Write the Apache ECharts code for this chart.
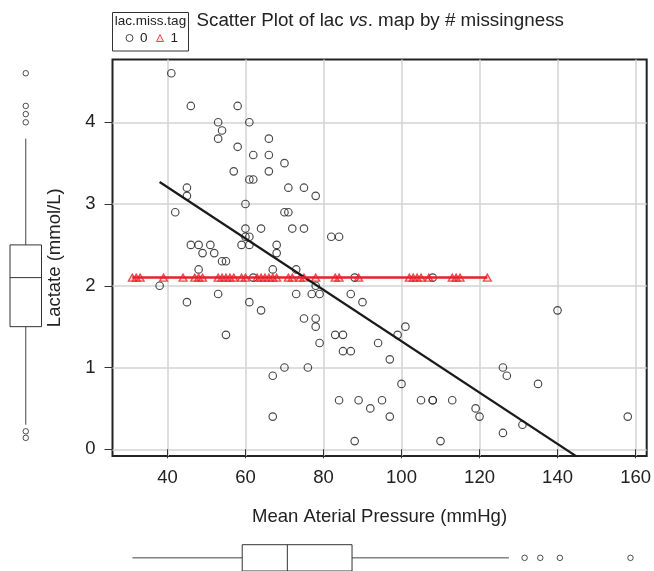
<!DOCTYPE html>
<html><head><meta charset="utf-8">
<script src="https://cdn.jsdelivr.net/npm/echarts@6/dist/echarts.min.js"></script>
<style>html,body{margin:0;padding:0;background:#fff}#c{width:654px;height:571px}</style>
</head><body><div id="c"></div>
<script>
// ---- data ----
const mapObserved = [41,46,58,53,61,54,53,66,58,62,66,70,57,66,61,62,45,71,75,45,78,60,42,70,71,60,64,72,75,60,61,82,84,46,48,51,59,61,68,49,52,68,54,55,48,67,73,62,88,108,38,78,53,73,77,79,87,45,61,90,64,140,75,78,78,101,55,83,85,99,79,94,85,87,97,70,76,126,67,127,100,135,84,89,95,105,108,108,113,92,119,67,97,120,158,126,131,88,110];
const lacObserved = [4.6,4.2,4.2,4.0,4.0,3.9,3.8,3.8,3.7,3.6,3.6,3.5,3.4,3.4,3.3,3.3,3.2,3.2,3.2,3.1,3.1,3.0,2.9,2.9,2.9,2.7,2.7,2.7,2.7,2.6,2.6,2.6,2.6,2.5,2.5,2.5,2.5,2.5,2.5,2.4,2.4,2.4,2.3,2.3,2.2,2.2,2.2,2.1,2.1,2.1,2.0,2.0,1.9,1.9,1.9,1.9,1.9,1.8,1.8,1.8,1.7,1.7,1.6,1.6,1.5,1.5,1.4,1.4,1.4,1.4,1.3,1.3,1.2,1.2,1.1,1.0,1.0,1.0,0.9,0.9,0.8,0.8,0.6,0.6,0.6,0.6,0.6,0.6,0.6,0.5,0.5,0.4,0.4,0.4,0.4,0.2,0.3,0.1,0.1];
const mapMissing = [31,32,33,39,44,47,48,49,53,54,55,56,57,59,60,63,64,65,66,67,68,71,72,74,75,78,83,84,89,102,103,104,105,107,113,114,115,122];
const lacMissing = [2.1,2.1,2.1,2.1,2.1,2.1,2.1,2.1,2.1,2.1,2.1,2.1,2.1,2.1,2.1,2.1,2.1,2.1,2.1,2.1,2.1,2.1,2.1,2.1,2.1,2.1,2.1,2.1,2.1,2.1,2.1,2.1,2.1,2.1,2.1,2.1,2.1,2.1];
const fitObservedX = [38, 158];
const fitObservedY = [3.27, -0.50];
const fitMissingX = [31, 122];
const fitMissingY = [2.1, 2.1];
const xTicks = [40, 60, 80, 100, 120, 140, 160];
const yTicks = [0, 1, 2, 3, 4];
const lacBox = [0.3, 1.5, 2.1, 2.5, 3.8];       // min, Q1, median, Q3, max
const lacOutliers = [4.6, 4.2, 4.1, 4.0, 0.22, 0.14];
const mapBox = [31, 59, 70.5, 87, 127];
const mapOutliers = [131, 135, 140, 158];
const legendNames = ['0', '1'];

// ---- chart ----
const FONT = 'Liberation Sans, Arial, Helvetica, sans-serif';
const TXT = '#222';
const RED = '#e8202a';
const X_MIN = 25.92, X_MAX = 162.85, Y_MIN = -0.082, Y_MAX = 4.768;
const zip = (a, b) => a.map((v, i) => [v, b[i]]);

const chart = echarts.init(document.getElementById('c'), null, {renderer: 'canvas'});

function boxRenderer(vertical) {
  return function (params, api) {
    const v = [api.value(0), api.value(1), api.value(2), api.value(3), api.value(4)];
    const st = {stroke: '#333', lineWidth: 1, fill: 'none'};
    const wst = {stroke: '#444', lineWidth: 1};
    const c = vertical ? (val, t) => api.coord([t, val]) : (val, t) => api.coord([val, t]);
    const line = (p1, p2, s) => ({type: 'line', shape: {x1: p1[0], y1: p1[1], x2: p2[0], y2: p2[1]}, style: s});
    const a0 = c(v[1], 0), a1 = c(v[3], 1);
    const rect = {type: 'rect', shape: {x: Math.min(a0[0], a1[0]), y: Math.min(a0[1], a1[1]), width: Math.abs(a1[0] - a0[0]), height: Math.abs(a1[1] - a0[1])}, style: {fill: '#fff', stroke: '#333', lineWidth: 1}};
    return {type: 'group', children: [
      line(c(v[0], 0.5), c(v[1], 0.5), wst),
      line(c(v[3], 0.5), c(v[4], 0.5), wst),
      rect,
      line(c(v[2], 0), c(v[2], 1), st)
    ]};
  };
}

const option = {
  animation: false,
  backgroundColor: '#fff',
  textStyle: {fontFamily: FONT},
  title: {
    text: 'Scatter Plot of lac {i|vs}. map by # missingness',
    left: 196.5, top: 11, padding: 0,
    textStyle: {fontSize: 18.8, fontWeight: 'normal', color: TXT, fontFamily: FONT,
      rich: {i: {fontSize: 18.8, fontStyle: 'italic', color: TXT, fontFamily: FONT}}}
  },
  legend: {
    data: [{name: legendNames[0], icon: 'circle'}, {name: legendNames[1], icon: 'triangle'}],
    left: 125.5, top: 31, padding: 0, itemWidth: 7, itemHeight: 7, itemGap: 8.5,
    itemStyle: {borderWidth: 1},
    textStyle: {fontSize: 13.5, color: TXT, fontFamily: FONT, padding: [0, 0, 0, 2]},
    selectedMode: false
  },
  graphic: [
    {type: 'rect', shape: {x: 112.5, y: 12.5, width: 76, height: 38.5}, style: {fill: 'none', stroke: '#333', lineWidth: 1}},
    {type: 'text', x: 150.5, y: 21, style: {text: 'lac.miss.tag', fontSize: 13.5, fill: TXT, fontFamily: FONT, textAlign: 'center', textVerticalAlign: 'middle'}}
  ],
  grid: [
    {left: 112.5, top: 59.5, width: 537, height: 396.5, show: true, borderColor: '#222', borderWidth: 2, backgroundColor: 'transparent'},
    {left: 10, top: 59.5, width: 31.5, height: 396.5},
    {left: 112.5, top: 544.7, width: 537, height: 30}
  ],
  xAxis: [
    {gridIndex: 0, type: 'value', min: X_MIN, max: X_MAX,
      axisLine: {show: false},
      axisTick: {show: true, customValues: xTicks, length: 9, lineStyle: {color: '#333', width: 1}},
      axisLabel: {customValues: xTicks, fontSize: 18.5, color: TXT, margin: 12, fontFamily: FONT},
      splitLine: {show: true, lineStyle: {color: '#d3d3d3', width: 1.5}},
      name: 'Mean Aterial Pressure (mmHg)', nameLocation: 'middle', nameGap: 51,
      nameTextStyle: {fontSize: 18.5, color: TXT, fontFamily: FONT}},
    {gridIndex: 1, type: 'value', min: 0, max: 1, show: false},
    {gridIndex: 2, type: 'value', min: X_MIN, max: X_MAX, show: false}
  ],
  yAxis: [
    {gridIndex: 0, type: 'value', min: Y_MIN, max: Y_MAX,
      axisLine: {show: false},
      axisTick: {show: true, customValues: yTicks, length: 8, lineStyle: {color: '#333', width: 1}},
      axisLabel: {customValues: yTicks, fontSize: 18.5, color: TXT, margin: 17, fontFamily: FONT},
      splitLine: {show: true, lineStyle: {color: '#d3d3d3', width: 1.5}},
      name: 'Lactate (mmol/L)', nameLocation: 'middle', nameGap: 48,
      nameTextStyle: {fontSize: 18.5, color: TXT, fontFamily: FONT}},
    {gridIndex: 1, type: 'value', min: Y_MIN, max: Y_MAX, show: false},
    {gridIndex: 2, type: 'value', min: 0, max: 1, show: false}
  ],
  series: [
    {name: legendNames[0], type: 'scatter', xAxisIndex: 0, yAxisIndex: 0, data: zip(mapObserved, lacObserved),
      symbol: 'circle', symbolSize: 7.5,
      itemStyle: {color: 'rgba(0,0,0,0)', borderColor: '#1a1a1a', borderWidth: 1.15}, z: 3},
    {name: legendNames[1], type: 'scatter', xAxisIndex: 0, yAxisIndex: 0, data: zip(mapMissing, lacMissing),
      symbol: 'triangle', symbolSize: [8, 7],
      itemStyle: {color: 'rgba(232,32,42,0.18)', borderColor: RED, borderWidth: 1.3}, z: 3},
    {type: 'line', xAxisIndex: 0, yAxisIndex: 0, data: zip(fitObservedX, fitObservedY), symbol: 'none',
      lineStyle: {color: '#1a1a1a', width: 2.2}, clip: true, z: 4},
    {type: 'line', xAxisIndex: 0, yAxisIndex: 0, data: zip(fitMissingX, fitMissingY), symbol: 'none',
      lineStyle: {color: RED, width: 2.5}, clip: true, z: 4},
    {type: 'custom', xAxisIndex: 1, yAxisIndex: 1, data: [lacBox], renderItem: boxRenderer(true), encode: {x: -1, y: [0,1,2,3,4]}},
    {type: 'scatter', xAxisIndex: 1, yAxisIndex: 1, data: lacOutliers.map(v => [0.5, v]), symbol: 'circle', symbolSize: 5.5,
      itemStyle: {color: 'rgba(0,0,0,0)', borderColor: '#222', borderWidth: 1}},
    {type: 'custom', xAxisIndex: 2, yAxisIndex: 2, data: [mapBox], renderItem: boxRenderer(false), encode: {x: [0,1,2,3,4], y: -1}},
    {type: 'scatter', xAxisIndex: 2, yAxisIndex: 2, data: mapOutliers.map(v => [v, 0.5]), symbol: 'circle', symbolSize: 5.5,
      itemStyle: {color: 'rgba(0,0,0,0)', borderColor: '#222', borderWidth: 1}}
  ]
};
chart.setOption(option);
</script>
</body></html>
